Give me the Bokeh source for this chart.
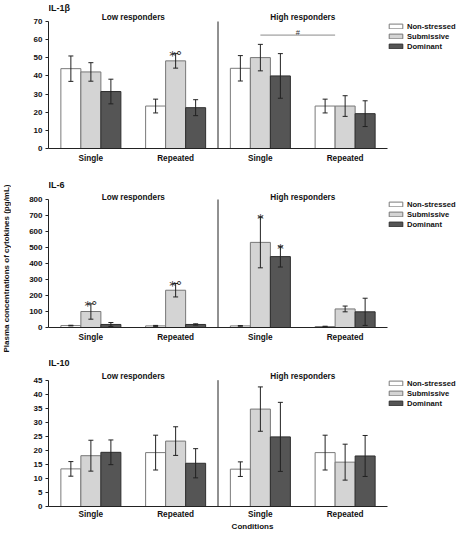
import math
from bokeh.plotting import figure
from bokeh.layouts import column, row
from bokeh.models import (ColumnDataSource, Range1d, FixedTicker, Whisker, TeeHead,
                          Legend, LegendItem, Label)
from bokeh.transform import dodge
from bokeh.core.properties import value
from bokeh.embed import file_html
from bokeh.resources import INLINE

# ---------------- data ----------------
conditions = ["Low-Single", "Low-Repeated", "High-Single", "High-Repeated"]
condition_labels = ["Single", "Repeated", "Single", "Repeated"]
responder_groups = ["Low responders", "High responders"]
responder_prefix = ["Low", "High"]
series_names = ["Non-stressed", "Submissive", "Dominant"]
x_title = "Conditions"
y_title = "Plasma concentrations of cytokines (pg/mL)"

il1b_title = "IL-1β"
il1b_nonstressed = [44.0, 23.4, 44.2, 23.4]
il1b_nonstressed_err = [7.0, 3.8, 7.0, 3.8]
il1b_submissive = [42.2, 48.3, 50.1, 23.4]
il1b_submissive_err = [5.1, 4.0, 7.3, 5.7]
il1b_dominant = [31.4, 22.5, 40.0, 19.2]
il1b_dominant_err = [6.8, 4.4, 12.3, 7.1]
il1b_ticks = [0, 10, 20, 30, 40, 50, 60, 70]
il1b_marks = [("Low-Repeated", "Submissive", "*°")]
il1b_bracket = ("High-Single", "High-Repeated", "#")

il6_title = "IL-6"
il6_nonstressed = [12, 10, 10, 6]
il6_nonstressed_err = [2, 3, 2, 2]
il6_submissive = [100, 233, 532, 116]
il6_submissive_err = [48, 42, 159, 18]
il6_dominant = [19, 19, 443, 98]
il6_dominant_err = [12, 4, 65, 85]
il6_ticks = [0, 100, 200, 300, 400, 500, 600, 700, 800]
il6_marks = [("Low-Single", "Submissive", "*°"), ("Low-Repeated", "Submissive", "*°"),
             ("High-Single", "Submissive", "*"), ("High-Single", "Dominant", "*")]

il10_title = "IL-10"
il10_nonstressed = [13.4, 19.2, 13.3, 19.2]
il10_nonstressed_err = [2.6, 6.2, 2.6, 6.2]
il10_submissive = [18.1, 23.3, 34.7, 15.8]
il10_submissive_err = [5.5, 5.1, 7.9, 6.4]
il10_dominant = [19.3, 15.4, 24.8, 18.0]
il10_dominant_err = [4.4, 5.2, 12.3, 7.3]
il10_ticks = [0, 5, 10, 15, 20, 25, 30, 35, 40, 45]

# ---------------- styles ----------------
FONT = "Liberation Sans"
MARK_FONT = "DejaVu Sans"
FILLS = ["#ffffff", "#d4d4d4", "#555555"]
LINES = ["#7a7a7a", "#777777", "#2e2e2e"]
AXIS_C = "#222222"
TXT_C = "#111111"
BAR_W = 0.236
SIDE_W = 11
TOTAL_W = 456
TOTAL_H = 533
W = TOTAL_W - SIDE_W
LEFT = 37
AXW = 339          # pixel length of the x axis


def make_panel(title, means, errs, ticks, marks=(), bracket=None, fig_h=176, head=21,
               span=127, title_gap=13, group_gap=4, xlabel=False):
    bottom = fig_h - head - span
    frame_h = head + span
    frame_w = W - LEFT
    y_top = ticks[-1]
    y_end = y_top * frame_h / span
    n = len(conditions)
    x_end = n * frame_w / AXW
    xs = [i + 0.5 for i in range(n)]
    p = figure(width=W, height=fig_h, x_range=Range1d(0, x_end), y_range=Range1d(0, y_end),
               output_backend="svg", toolbar_location=None,
               min_border_left=LEFT, min_border_right=0,
               min_border_top=0, min_border_bottom=bottom)
    p.title = None
    p.outline_line_color = None
    p.xgrid.visible = False
    p.ygrid.visible = False
    p.background_fill_color = None
    p.border_fill_color = None

    offsets = [(k - 1) * BAR_W for k in range(len(series_names))]
    bars = []
    for k in range(len(series_names)):
        src = ColumnDataSource(dict(
            x=xs, top=means[k],
            upper=[m + e for m, e in zip(means[k], errs[k])],
            lower=[m - e for m, e in zip(means[k], errs[k])]))
        r = p.vbar(x=dodge("x", offsets[k]), top="top", width=BAR_W, bottom=0, source=src,
                   fill_color=FILLS[k], line_color=LINES[k], line_width=1)
        bars.append(r)
        wh = Whisker(base=dodge("x", offsets[k]), upper="upper", lower="lower", source=src,
                     line_color=AXIS_C, line_width=1, level="overlay",
                     upper_head=TeeHead(size=5, line_color=AXIS_C, line_width=1),
                     lower_head=TeeHead(size=5, line_color=AXIS_C, line_width=1))
        p.add_layout(wh)

    # divider between responder groups
    boundary = sum(1 for c in conditions if c.startswith(responder_prefix[0]))
    p.segment(x0=[boundary], y0=[0], x1=[boundary], y1=[y_top], line_color=AXIS_C, line_width=1)

    # group labels
    for g, name in enumerate(responder_groups):
        idx = [i for i, c in enumerate(conditions) if c.startswith(responder_prefix[g] + "-")]
        cx = sum(xs[i] for i in idx) / len(idx)
        p.add_layout(Label(x=cx, y=span + group_gap, x_units="data", y_units="screen", text=name,
                           text_align="center", text_baseline="middle",
                           text_font=FONT, text_font_size="8.2px", text_font_style="bold",
                           text_color=TXT_C))
    # panel title
    p.add_layout(Label(x=0, y=span + title_gap, x_units="screen", y_units="screen", text=title,
                       text_align="left", text_baseline="middle", text_font=FONT,
                       text_font_size="9px", text_font_style="bold", text_color=TXT_C))

    # significance marks
    if marks:
        mx, my, mt = [], [], []
        for cond, ser, txt in marks:
            i = conditions.index(cond)
            k = series_names.index(ser)
            mx.append(xs[i] + offsets[k])
            my.append(means[k][i] + errs[k][i])
            mt.append(txt)
        p.text(x="x", y="y", text="t", source=ColumnDataSource(dict(x=mx, y=my, t=mt)),
               text_align="center", text_baseline="alphabetic", y_offset=2,
               text_font=value(MARK_FONT), text_font_size="13px", text_color="#333333")
    if bracket is not None:
        i0 = conditions.index(bracket[0])
        i1 = conditions.index(bracket[1])
        ymax = max(means[k][i] + errs[k][i] for k in range(len(series_names)) for i in (i0, i1))
        yb = ymax + y_top * 0.073
        p.segment(x0=[xs[i0]], y0=[yb], x1=[xs[i1] - BAR_W / 2], y1=[yb],
                  line_color="#8a8a8a", line_width=1)
        p.text(x=[(xs[i0] + xs[i1] - BAR_W / 2) / 2], y=[yb], text=[bracket[2]],
               text_align="center", text_baseline="alphabetic", y_offset=-3,
               text_font=value(FONT), text_font_size="7.5px", text_color="#333333")

    # axes
    ya = p.yaxis[0]
    ya.ticker = FixedTicker(ticks=ticks)
    ya.bounds = (0, y_top)
    ya.axis_line_color = AXIS_C
    ya.major_tick_line_color = AXIS_C
    ya.major_tick_out = 3
    ya.major_tick_in = 0
    ya.minor_tick_line_color = None
    ya.major_label_standoff = 3
    ya.major_label_text_font = FONT
    ya.major_label_text_font_size = "8px"
    ya.major_label_text_font_style = "bold"
    ya.major_label_text_color = TXT_C

    xa = p.xaxis[0]
    xa.ticker = FixedTicker(ticks=xs)
    xa.bounds = (0, n)
    xa.major_label_overrides = {x: lab for x, lab in zip(xs, condition_labels)}
    xa.axis_line_color = AXIS_C
    xa.major_tick_line_color = None
    xa.major_tick_out = 0
    xa.major_tick_in = 0
    xa.minor_tick_line_color = None
    xa.major_label_standoff = 5
    xa.major_label_text_font = FONT
    xa.major_label_text_font_size = "8.2px"
    xa.major_label_text_font_style = "bold"
    xa.major_label_text_color = TXT_C
    if xlabel:
        xa.major_label_standoff = 3
        xa.axis_label = x_title
        xa.axis_label_standoff = 0
        xa.axis_label_text_font = FONT
        xa.axis_label_text_font_size = "8px"
        xa.axis_label_text_font_style = "bold"
        xa.axis_label_text_color = TXT_C

    legend = Legend(items=[LegendItem(label=series_names[k], renderers=[bars[k]])
                           for k in range(len(series_names))],
                    location=(AXW, frame_h - head - 30), orientation="vertical",
                    glyph_width=17, glyph_height=6, label_height=10, label_standoff=3,
                    spacing=0, padding=0, margin=0,
                    label_text_font=FONT, label_text_font_size="7.6px",
                    label_text_font_style="bold", label_text_color=TXT_C,
                    border_line_color=None, background_fill_alpha=0)
    p.add_layout(legend)
    return p


p1 = make_panel(il1b_title,
                [il1b_nonstressed, il1b_submissive, il1b_dominant],
                [il1b_nonstressed_err, il1b_submissive_err, il1b_dominant_err],
                il1b_ticks, marks=il1b_marks, bracket=il1b_bracket,
                fig_h=176, head=21, span=127, title_gap=13.5, group_gap=4.5)
p2 = make_panel(il6_title,
                [il6_nonstressed, il6_submissive, il6_dominant],
                [il6_nonstressed_err, il6_submissive_err, il6_dominant_err],
                il6_ticks, marks=il6_marks,
                fig_h=179, head=23, span=128, title_gap=15, group_gap=2.5)
p3 = make_panel(il10_title,
                [il10_nonstressed, il10_submissive, il10_dominant],
                [il10_nonstressed_err, il10_submissive_err, il10_dominant_err],
                il10_ticks,
                fig_h=TOTAL_H - 176 - 179, head=25, span=128, title_gap=15.5, group_gap=2.5,
                xlabel=True)

# narrow strip carrying the shared y-axis title
side = figure(width=SIDE_W, height=TOTAL_H, x_range=Range1d(0, 1), y_range=Range1d(0, 1),
              output_backend="svg", toolbar_location=None, min_border=0)
side.title = None
side.axis.visible = False
side.grid.visible = False
side.outline_line_color = None
side.background_fill_color = None
side.border_fill_color = None
side.add_layout(Label(x=6, y=TOTAL_H - 268, x_units="screen", y_units="screen", text=y_title,
                      angle=math.pi / 2, text_align="center", text_baseline="middle",
                      text_font=FONT, text_font_size="8px", text_font_style="bold",
                      text_color=TXT_C))

layout = row(side, column(p1, p2, p3, spacing=0), spacing=0)
open("out.html", "w").write(file_html(layout, INLINE))
